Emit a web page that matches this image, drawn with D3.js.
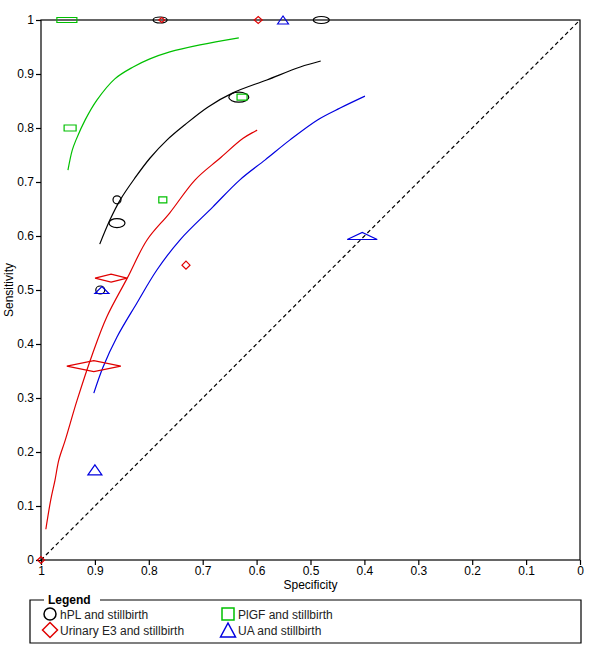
<!DOCTYPE html>
<html><head><meta charset="utf-8">
<script src="https://cdn.jsdelivr.net/npm/d3@7/dist/d3.min.js"></script>
<style>body{margin:0;background:#fff}svg{display:block}text{font-family:"Liberation Sans",Arial,sans-serif}</style>
</head><body><svg id="c" width="600" height="664"></svg>
<script>
// ---------- data ----------
const xTicks = [1,0.9,0.8,0.7,0.6,0.5,0.4,0.3,0.2,0.1,0];
const yTicks = [0,0.1,0.2,0.3,0.4,0.5,0.6,0.7,0.8,0.9,1];
const tickLabels = ["0","0.1","0.2","0.3","0.4","0.5","0.6","0.7","0.8","0.9","1"];
const seriesNames = ["hPL and stillbirth","Urinary E3 and stillbirth","PlGF and stillbirth","UA and stillbirth"];

// study points: specificity, sensitivity, relative weights (negatives, positives)
const hplSpec = [0.779,0.48,0.633,0.859,0.859,0.89];
const hplSens = [1,1,0.857,0.667,0.624,0.5];
const hplWNeg = [28,32,40,16,32,18];
const hplWPos = [12,14,20,16,18,16];

const e3Spec = [0.776,0.597,0.87,0.902,0.731,1];
const e3Sens = [1,1,0.522,0.359,0.546,0];
const e3WNeg = [12,16,64,108,16,14];
const e3WPos = [10,14,16,22,16,14];

const plgfSpec = [0.952,0.946,0.774,0.627];
const plgfSens = [1,0.8,0.667,0.857];
const plgfWNeg = [40,24,16,20];
const plgfWPos = [10,12,12,12];

const uaSpec = [0.551,0.404,0.9,0.887];
const uaSens = [1,0.6,0.167,0.5];
const uaWNeg = [22,60,28,28];
const uaWPos = [16,14,20,14];

// SROC curves
const hplCurveSpec = [0.891,0.872,0.853,0.826,0.798,0.766,0.733,0.690,0.644,0.581,0.519,0.481];
const hplCurveSens = [0.585,0.630,0.667,0.707,0.744,0.778,0.806,0.839,0.865,0.889,0.913,0.924];
const e3CurveSpec = [0.991,0.982,0.974,0.967,0.955,0.933,0.904,0.878,0.840,0.803,0.761,0.714,0.668,0.625,0.599];
const e3CurveSens = [0.057,0.111,0.148,0.185,0.222,0.296,0.383,0.450,0.522,0.593,0.643,0.704,0.744,0.781,0.796];
const plgfCurveSpec = [0.950,0.942,0.935,0.918,0.896,0.863,0.829,0.798,0.761,0.705,0.633];
const plgfCurveSens = [0.722,0.759,0.778,0.815,0.852,0.891,0.913,0.928,0.941,0.954,0.967];
const uaCurveSpec = [0.902,0.885,0.859,0.822,0.785,0.742,0.681,0.631,0.584,0.538,0.487,0.445,0.399];
const uaCurveSens = [0.309,0.357,0.413,0.476,0.537,0.593,0.654,0.704,0.741,0.778,0.815,0.837,0.859];

// ---------- drawing ----------
const svg = d3.select("#c");
const L=41, R=580, T=20, B=560;
const x = d3.scaleLinear().domain([1,0]).range([L,R]);
const y = d3.scaleLinear().domain([0,1]).range([B,T]);
const sz = d3.scaleLinear().domain([0,100]).range([0,50]);

const colors = ["#000000","#e00000","#00c000","#0000e0"];

// frame
svg.append("rect").attr("x",L).attr("y",T).attr("width",R-L).attr("height",B-T)
  .attr("fill","none").attr("stroke","#000").attr("stroke-width",1.2);

// diagonal
svg.append("line").attr("x1",x(1)).attr("y1",y(0)).attr("x2",x(0)).attr("y2",y(1))
  .attr("stroke","#000").attr("stroke-width",1.2).attr("stroke-dasharray","4,3");

// axes
const xAxis = d3.axisBottom(x).tickValues(xTicks).tickSize(5).tickPadding(1).tickFormat((d)=>tickLabels[Math.round(d*10)]);
const gx = svg.append("g").attr("transform",`translate(0,${B})`).call(xAxis);
const yAxis = d3.axisLeft(y).tickValues(yTicks).tickSize(5).tickPadding(2).tickFormat((d)=>tickLabels[Math.round(d*10)]);
const gy = svg.append("g").attr("transform",`translate(${L},0)`).call(yAxis);
[gx,gy].forEach(g=>{
  g.select(".domain").remove();
  g.selectAll("line").attr("stroke","#000").attr("stroke-width",1.2);
  g.selectAll("text").attr("font-family","Liberation Sans, Arial, sans-serif").attr("font-size",12).attr("fill","#000");
});
gx.selectAll("text").attr("dy","0.71em");

svg.append("text").attr("x",(L+R)/2).attr("y",589).attr("text-anchor","middle").attr("font-size",12).text("Specificity");
svg.append("text").attr("transform",`translate(13,${(T+B)/2}) rotate(-90)`).attr("text-anchor","middle").attr("font-size",12).text("Sensitivity");

// curves
const line = d3.line().x(d=>x(d[0])).y(d=>y(d[1])).curve(d3.curveCatmullRom);
const curves = [
  [hplCurveSpec,hplCurveSens],[e3CurveSpec,e3CurveSens],[plgfCurveSpec,plgfCurveSens],[uaCurveSpec,uaCurveSens]
];
curves.forEach((c,i)=>{
  svg.append("path").datum(c[0].map((s,k)=>[s,c[1][k]])).attr("d",line)
    .attr("fill","none").attr("stroke",colors[i]).attr("stroke-width",1.2);
});

// marker shapes
function shapePath(type,cx,cy,w,h){
  if(type===0){ // ellipse
    const rx=w/2, ry=h/2;
    return `M${cx-rx},${cy}A${rx},${ry} 0 1,0 ${cx+rx},${cy}A${rx},${ry} 0 1,0 ${cx-rx},${cy}Z`;
  }
  if(type===1) return `M${cx-w/2},${cy}L${cx},${cy-h/2}L${cx+w/2},${cy}L${cx},${cy+h/2}Z`;
  if(type===2) return `M${cx-w/2},${cy-h/2}h${w}v${h}h${-w}Z`;
  return `M${cx-w/2},${cy+h/2}L${cx},${cy-h/2}L${cx+w/2},${cy+h/2}Z`;
}
const studies = [
  [hplSpec,hplSens,hplWNeg,hplWPos],
  [e3Spec,e3Sens,e3WNeg,e3WPos],
  [plgfSpec,plgfSens,plgfWNeg,plgfWPos],
  [uaSpec,uaSens,uaWNeg,uaWPos]
];
studies.forEach((s,i)=>{
  s[0].forEach((sp,k)=>{
    svg.append("path").attr("d",shapePath(i,x(sp),y(s[1][k]),sz(s[2][k]),sz(s[3][k])))
      .attr("fill","none").attr("stroke",colors[i]).attr("stroke-width",1.2);
  });
});

// legend
const lg = svg.append("g");
lg.append("path").attr("d","M44,600H30V643H581V600H100").attr("fill","none").attr("stroke","#000").attr("stroke-width",1.2);
lg.append("text").attr("x",48).attr("y",604).attr("font-size",12).attr("font-weight","bold").text("Legend");
const lgPos = [[50,614],[50,630],[228,614],[228,630]];
const lgSize = [[12,12],[15,15],[12,12],[15,14]];
seriesNames.forEach((n,i)=>{
  const [lx,ly]=lgPos[i];
  lg.append("path").attr("d",shapePath(i,lx,ly,lgSize[i][0],lgSize[i][1]))
    .attr("fill","none").attr("stroke",colors[i]).attr("stroke-width",1.5);
  lg.append("text").attr("x",lx+10).attr("y",ly+4.5).attr("font-size",12).attr("fill","#222").text(n);
});
</script></body></html>
